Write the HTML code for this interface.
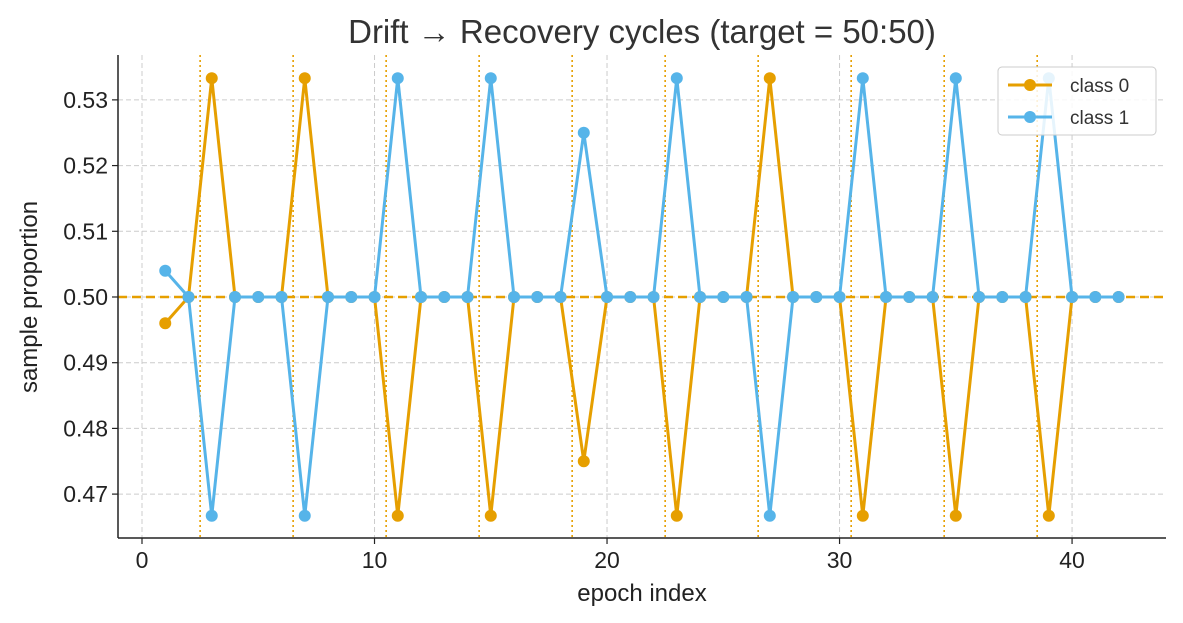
<!DOCTYPE html>
<html><head><meta charset="utf-8"><style>
html,body{margin:0;padding:0;background:#fff;}
svg{display:block;font-family:"Liberation Sans","DejaVu Sans",sans-serif;}
</style></head><body>
<svg id="chart" width="1183" height="623">
<text x="642" y="43" text-anchor="middle" font-size="33" fill="#333">Drift → Recovery cycles (target = 50:50)</text>
<g id="grid"></g>
<g id="marks"></g>
<g id="axes"></g>
<text x="642" y="601" text-anchor="middle" font-size="24" fill="#222">epoch index</text>
<text transform="translate(37,297) rotate(-90)" text-anchor="middle" font-size="24" fill="#222">sample proportion</text>
<g>
<rect x="998" y="67" width="158" height="68" rx="4" fill="#fff" fill-opacity="0.85" stroke="#ccc"/>
<g>
<line x1="1008" y1="85" x2="1052" y2="85" stroke="#E69F00" stroke-width="3"/><circle cx="1030" cy="85" r="6" fill="#E69F00"/>
<text x="1070" y="92" font-size="19" fill="#333">class 0</text></g>
<g>
<line x1="1008" y1="117" x2="1052" y2="117" stroke="#56B4E9" stroke-width="3"/><circle cx="1030" cy="117" r="6" fill="#56B4E9"/>
<text x="1070" y="124" font-size="19" fill="#333">class 1</text></g>
</g>
</svg>
<script>
const epochs = [1,2,3,4,5,6,7,8,9,10,11,12,13,14,15,16,17,18,19,20,21,22,23,24,25,26,27,28,29,30,31,32,33,34,35,36,37,38,39,40,41,42];
const class0 = [0.496,0.5,0.5333,0.5,0.5,0.5,0.5333,0.5,0.5,0.5,0.4667,0.5,0.5,0.5,0.4667,0.5,0.5,0.5,0.475,0.5,0.5,0.5,0.4667,0.5,0.5,0.5,0.5333,0.5,0.5,0.5,0.4667,0.5,0.5,0.5,0.4667,0.5,0.5,0.5,0.4667,0.5,0.5,0.5];
const class1 = [0.504,0.5,0.4667,0.5,0.5,0.5,0.4667,0.5,0.5,0.5,0.5333,0.5,0.5,0.5,0.5333,0.5,0.5,0.5,0.525,0.5,0.5,0.5,0.5333,0.5,0.5,0.5,0.4667,0.5,0.5,0.5,0.5333,0.5,0.5,0.5,0.5333,0.5,0.5,0.5,0.5333,0.5,0.5,0.5];
const driftMarks = [2.5,6.5,10.5,14.5,18.5,22.5,26.5,30.5,34.5,38.5];
const xTicks = [0,10,20,30,40];
const yTicks = [0.47,0.48,0.49,0.50,0.51,0.52,0.53];
const yTickLabels = ["0.47","0.48","0.49","0.50","0.51","0.52","0.53"];
const target = 0.5;

const L=118,R=1166,T=55,B=538;
const xMin=-1.032,xMax=44.04,yMin=0.46332,yMax=0.53683;
const X=v=>L+(v-xMin)/(xMax-xMin)*(R-L);
const Y=v=>B-(v-yMin)/(yMax-yMin)*(B-T);
const NS="http://www.w3.org/2000/svg";
function mk(tag,attrs,parent){const e=document.createElementNS(NS,tag);for(const k in attrs)e.setAttribute(k,attrs[k]);parent.appendChild(e);return e;}
const grid=document.getElementById('grid'),marks=document.getElementById('marks'),axes=document.getElementById('axes');

xTicks.forEach(t=>{
 const g=mk('line',{x1:X(t),x2:X(t),y1:T,y2:B,stroke:'#ccc','stroke-dasharray':'5,3','stroke-width':1},grid);
 
 
 mk('line',{x1:X(t),x2:X(t),y1:B,y2:B+6,stroke:'#222','stroke-width':1.2},axes);
 const tx=mk('text',{x:X(t),y:B+30,'text-anchor':'middle','font-size':23,fill:'#222'},axes);
 tx.textContent=t;
 
 
});
yTicks.forEach((t,i)=>{
 const g=mk('line',{x1:L,x2:R,y1:Y(t),y2:Y(t),stroke:'#ccc','stroke-dasharray':'5,3','stroke-width':1},grid);
 
 
 mk('line',{x1:L-6,x2:L,y1:Y(t),y2:Y(t),stroke:'#222','stroke-width':1.2},axes);
 const tx=mk('text',{x:L-10,y:Y(t)+8,'text-anchor':'end','font-size':23,fill:'#222'},axes);
 tx.textContent=yTickLabels[i];
 
 
});
driftMarks.forEach(d=>{
 const l=mk('line',{x1:X(d),x2:X(d),y1:T,y2:B,stroke:'#E69F00','stroke-dasharray':'2,3','stroke-width':1.6},marks);
 
 
});
const tl=mk('line',{x1:L,x2:R,y1:Y(target),y2:Y(target),stroke:'#E69F00','stroke-dasharray':'9,5','stroke-width':2.5},marks);



function series(vals,color,name){
 const p=mk('polyline',{points:epochs.map((e,i)=>X(e)+','+Y(vals[i])).join(' '),fill:'none',stroke:color,'stroke-width':3,'stroke-linejoin':'round'},marks);
 
 
 epochs.forEach((e,i)=>{
  const c=mk('circle',{cx:X(e),cy:Y(vals[i]),r:6,fill:color},marks);
  
  
 });
}
series(class0,'#E69F00','class-0');
series(class1,'#56B4E9','class-1');

mk('line',{x1:L,x2:L,y1:T,y2:B,stroke:'#222','stroke-width':1.5},axes);
mk('line',{x1:L,x2:R,y1:B,y2:B,stroke:'#222','stroke-width':1.5},axes);
</script>
</body></html>
